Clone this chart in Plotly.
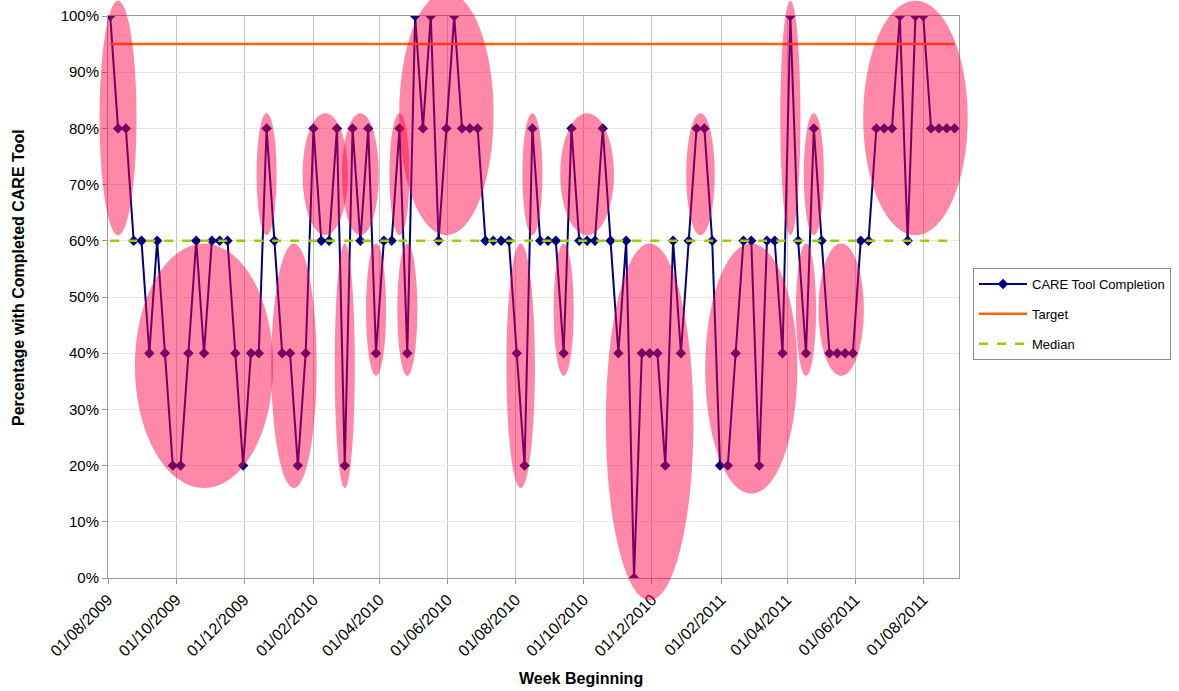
import plotly.graph_objects as go
import pandas as pd

# ---------------- data ----------------
START_WEEK = "2009-08-03"
completion = [
    100, 80, 80, 60, 60, 40, 60, 40, 20, 20, 40, 60, 40, 60, 60, 60, 40, 20, 40, 40, 80, 60, 40, 40,
    20, 40, 80, 60, 60, 80, 20, 80, 60, 80, 40, 60, 60, 80, 40, 100, 80, 100, 60, 80, 100, 80, 80, 80, 60,
    60, 60, 60, 40, 20, 80, 60, 60, 60, 40, 80, 60, 60, 60, 80, 60, 40, 60, 0, 40, 40, 40, 20, 60, 40,
    60, 80, 80, 60, 20, 20, 40, 60, 60, 20, 60, 60, 40, 100, 60, 40, 80, 60, 40, 40, 40, 40, 60, 60,
    80, 80, 80, 100, 60, 100, 100, 80, 80, 80, 80,
]
TARGET = 95
MEDIAN = 60
X_RANGE = ["2009-08-01", "2011-09-02"]
Y_RANGE = [0, 100]
TICK_START = "2009-08-01"
TICK_END = "2011-08-01"

dates = pd.date_range(START_WEEK, periods=len(completion), freq="7D")
tick_dates = pd.date_range(TICK_START, TICK_END, freq="2MS")

FONT = "Liberation Sans, Arial, sans-serif"

fig = go.Figure()
fig.add_trace(go.Scatter(
    x=dates, y=completion, mode="lines+markers", name="CARE Tool Completion",
    line=dict(color="#000080", width=2),
    marker=dict(symbol="diamond", size=8, color="#000080"),
    legendgroup="g1",
))
fig.add_trace(go.Scatter(
    x=dates, y=[TARGET] * len(dates), mode="lines", name="Target",
    line=dict(color="#FF6600", width=2.5), legendgroup="g2",
))
fig.add_trace(go.Scatter(
    x=dates, y=[MEDIAN] * len(dates), mode="lines", name="Median",
    line=dict(color="#99CC00", width=2.5, dash="dash"), legendgroup="g3",
))

# ---------------- run highlighting (ellipses) ----------------
runs = []
cur = None
for i, v in enumerate(completion):
    if v == MEDIAN:
        continue
    side = v > MEDIAN
    if cur is not None and cur["side"] == side:
        cur["idx"].append(i)
    else:
        cur = {"side": side, "idx": [i]}
        runs.append(cur)

x_lo = pd.Timestamp(X_RANGE[0])
x_hi = pd.Timestamp(X_RANGE[1])
x_span = (x_hi - x_lo).days


def xdom(ts):
    return (ts - x_lo).total_seconds() / 86400.0 / x_span


def ydom(v):
    return (v - Y_RANGE[0]) / (Y_RANGE[1] - Y_RANGE[0])


for r in runs:
    first, last = r["idx"][0], r["idx"][-1]
    span_days = (dates[last] - dates[first]).days
    pad_days = 9 + 0.04 * span_days
    vals = [completion[i] for i in r["idx"]]
    if r["side"]:
        y0, y1 = MEDIAN + 1, max(vals) + 2.7
    else:
        y0, y1 = min(vals) - 4, MEDIAN - 0.5
    # grow the ellipse slightly until the points of the run lie (about) inside it
    for _ in range(30):
        cx = dates[first] + (dates[last] - dates[first]) / 2
        a = span_days / 2 + pad_days
        cy, b = (y0 + y1) / 2, (y1 - y0) / 2
        worst = max(
            ((dates[i] - cx).days / a) ** 2 + ((completion[i] - cy) / b) ** 2
            for i in r["idx"]
        )
        if worst <= 1.1:
            break
        pad_days += 1
        if r["side"]:
            y1 += 0.5
        else:
            y0 -= 0.5
    pad = pd.Timedelta(days=pad_days)
    fig.add_shape(
        type="circle", xref="x domain", yref="y domain",
        x0=xdom(dates[first] - pad), x1=xdom(dates[last] + pad),
        y0=ydom(y0), y1=ydom(y1),
        fillcolor="rgb(255,0,68)", opacity=0.47, line=dict(width=0),
        layer="above",
    )

# ---------------- layout ----------------
L, R, T, B = 108, 220, 16, 113
W, H = 1179, 691
pw, ph = W - L - R, H - T - B


def px_x(p):
    return (p - L) / pw


def px_y(p):
    return (H - B - p) / ph


fig.update_layout(
    width=W, height=H,
    margin=dict(l=L, r=R, t=T, b=B, pad=0, autoexpand=False),
    paper_bgcolor="white", plot_bgcolor="white",
    font=dict(family=FONT, color="#000000", size=15),
    showlegend=True,
    legend=dict(
        x=px_x(973), y=px_y(268), xanchor="left", yanchor="top",
        bordercolor="#8c8c8c", borderwidth=1, bgcolor="white",
        font=dict(size=13, family=FONT), tracegroupgap=10,
        traceorder="grouped", itemwidth=48, entrywidth=153,
    ),
    xaxis=dict(
        type="date", range=X_RANGE, tickvals=tick_dates, tickformat="%d/%m/%Y",
        tickangle=-45, showgrid=True, gridcolor="#c4c4c4", gridwidth=1,
        showline=True, linecolor="#999999", linewidth=1, mirror=True,
        ticks="outside", ticklen=5, tickcolor="#999999",
        tickfont=dict(size=16, family=FONT, color="#000000"), zeroline=False,
    ),
    yaxis=dict(
        range=Y_RANGE, dtick=10, ticksuffix="%", showgrid=True, gridcolor="#e6e6e6",
        showline=True, linecolor="#999999", linewidth=1, mirror=True,
        ticks="outside", ticklen=5, tickcolor="#999999",
        tickfont=dict(size=15, family=FONT, color="#000000"), zeroline=False,
    ),
    annotations=[
        dict(text="<b>Week Beginning</b>", xref="paper", yref="paper",
             x=px_x(581), y=px_y(678), xanchor="center", yanchor="middle",
             showarrow=False, font=dict(size=16, family=FONT, color="#000000")),
        dict(text="<b>Percentage with Completed CARE Tool</b>", xref="paper", yref="paper",
             x=px_x(18), y=px_y(278), xanchor="center", yanchor="middle",
             textangle=-90, showarrow=False,
             font=dict(size=16, family=FONT, color="#000000")),
    ],
)

fig.write_html(
    "out.html",
    config={"displayModeBar": False},
    post_script="document.body.style.margin='0';document.body.style.overflow='hidden';",
)
